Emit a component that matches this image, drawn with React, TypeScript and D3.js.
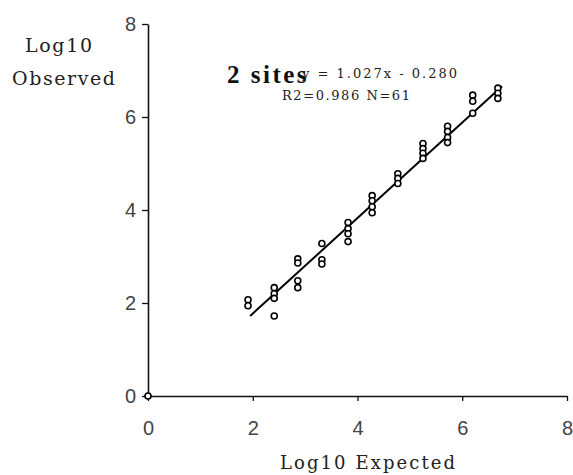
import { useEffect, useRef } from "react";
import * as d3 from "d3";

// clusters at each expected value
const expected = [
  0, 1.91, 1.91, 2.41, 2.41, 2.41, 2.41, 2.86, 2.86, 2.86, 2.86, 3.32, 3.32,
  3.32, 3.82, 3.82, 3.82, 3.82, 4.28, 4.28, 4.28, 4.28, 4.77, 4.77, 4.77, 5.25,
  5.25, 5.25, 5.25, 5.72, 5.72, 5.72, 5.72, 6.2, 6.2, 6.2, 6.68, 6.68, 6.68,
];
const observed = [
  0, 2.07, 1.94, 2.33, 2.2, 2.1, 1.72, 2.95, 2.86, 2.48, 2.33, 3.28, 2.93, 2.84,
  3.73, 3.6, 3.49, 3.32, 4.31, 4.2, 4.07, 3.94, 4.78, 4.68, 4.57, 5.43, 5.32,
  5.22, 5.11, 5.8, 5.69, 5.56, 5.45, 6.47, 6.34, 6.08, 6.62, 6.51, 6.4,
];
const ticks = [0, 2, 4, 6, 8];
const slope = 1.027;
const intercept = -0.28;
const fitRange = [1.95, 6.76];

export default function App() {
  const svgRef = useRef<SVGSVGElement>(null);

  useEffect(() => {
    if (!svgRef.current) return;
    const svg = d3.select(svgRef.current);
    svg.selectAll("*").remove();

    const x = d3.scaleLinear().domain([0, 8]).range([148, 567]);
    const y = d3.scaleLinear().domain([0, 8]).range([396, 24]);

    const tickFont = "'Liberation Sans', Arial, sans-serif";
    const serif = "'DejaVu Serif', serif";

    const xAxis = svg
      .append("g")
      .attr("transform", `translate(0,${y(0)})`)
      .call(d3.axisBottom(x).tickValues(ticks).tickSize(5).tickSizeOuter(0).tickPadding(20));
    xAxis.selectAll("text").attr("font-size", 20).attr("font-family", tickFont).attr("fill", "#444");

    const yAxis = svg
      .append("g")
      .attr("transform", `translate(${x(0)},0)`)
      .call(d3.axisLeft(y).tickValues(ticks).tickSize(6).tickSizeOuter(0).tickPadding(6));
    yAxis.selectAll("text").attr("font-size", 20).attr("font-family", tickFont).attr("fill", "#444");

    svg.selectAll("path.domain").attr("stroke", "#111").attr("stroke-width", 1.6);
    svg.selectAll(".tick line").attr("stroke", "#111").attr("stroke-width", 1.3);

    // fit line
    const line = d3
      .line<number>()
      .x((d) => x(d))
      .y((d) => y(slope * d + intercept));
    svg
      .append("path")
      .datum(fitRange)
      .attr("d", line)
      .attr("fill", "none")
      .attr("stroke", "#000")
      .attr("stroke-width", 2);

    svg
      .append("g")
      .selectAll("circle")
      .data(expected.map((e, i) => [e, observed[i]]))
      .join("circle")
      .attr("cx", (d) => x(d[0]))
      .attr("cy", (d) => y(d[1]))
      .attr("r", 3)
      .attr("fill", "#fff")
      .attr("stroke", "#000")
      .attr("stroke-width", 1.6);

    const label = (
      tx: number,
      ty: number,
      s: string,
      size: number,
      len: number,
      anchor = "start",
    ) =>
      svg
        .append("text")
        .attr("x", tx)
        .attr("y", ty)
        .attr("text-anchor", anchor)
        .attr("font-family", serif)
        .attr("font-size", size)
        .attr("fill", "#222")
        .attr("textLength", len)
        .attr("lengthAdjust", "spacing")
        .text(s);

    // titles
    label(25, 52, "Log10", 19, 67);
    label(12, 85, "Observed", 19, 103);
    label(280, 469, "Log10 Expected", 18, 175);

    // annotation
    svg
      .append("text")
      .attr("x", 227)
      .attr("y", 83)
      .attr("font-family", "'Liberation Serif', 'Times New Roman', serif")
      .attr("font-weight", "bold")
      .attr("font-size", 25)
      .attr("letter-spacing", 2.5)
      .attr("fill", "#111")
      .text("2 sites");
    label(302, 78, `y = ${slope.toFixed(3)}x - ${Math.abs(intercept).toFixed(3)}`, 13, 155);
    label(282, 100, "R2=0.986  N=61", 13, 128);
  }, []);

  return (
    <svg
      ref={svgRef}
      width={573}
      height={475}
      style={{ position: "absolute", top: 0, left: 0, background: "#fff" }}
    />
  );
}
